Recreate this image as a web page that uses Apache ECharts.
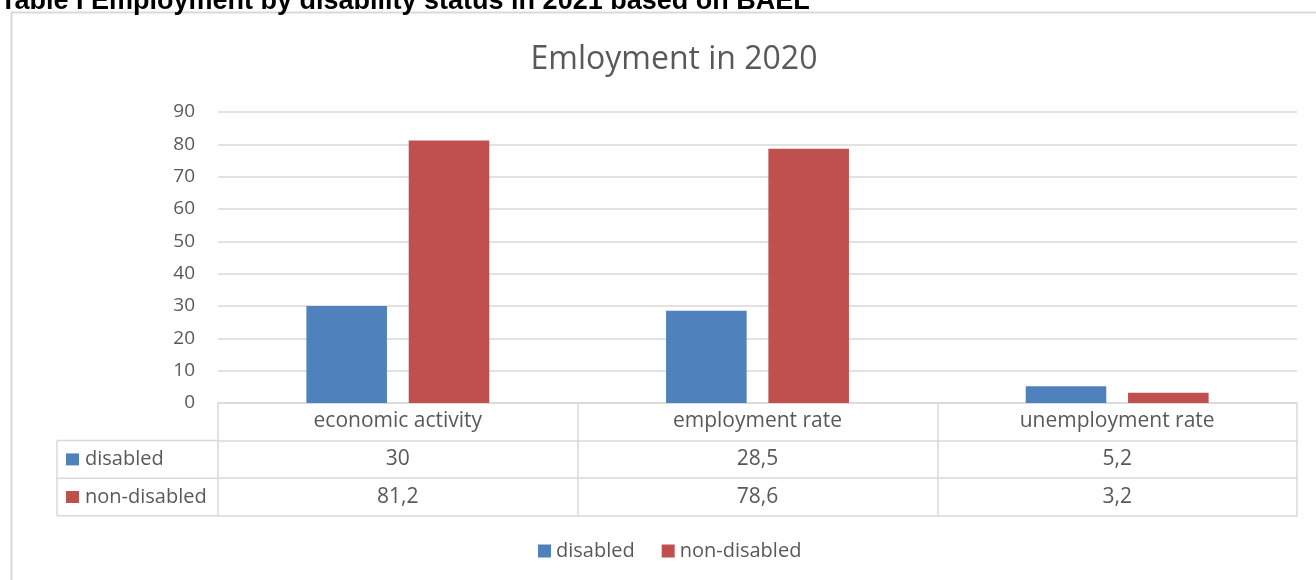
<!DOCTYPE html>
<html>
<head>
<meta charset="utf-8">
<script src="https://cdn.jsdelivr.net/npm/echarts@6/dist/echarts.min.js"></script>
<style>
  html, body { margin: 0; padding: 0; background: #ffffff; }
  #chart { width: 1316px; height: 580px; }
</style>
</head>
<body>
<div id="chart"></div>
<script>
// Data
const categories = ['economic activity', 'employment rate', 'unemployment rate'];
const seriesNames = ['disabled', 'non-disabled'];
const disabledValues = [30, 28.5, 5.2];
const nonDisabledValues = [81.2, 78.6, 3.2];
const yTicks = [0, 10, 20, 30, 40, 50, 60, 70, 80, 90];

// Layout
const W = 1316, H = 580;
const GRID_LEFT = 218, GRID_RIGHT_X = 1297, GRID_TOP = 112, AXIS_Y = 403;
const ROW_H = 37.6;
const TABLE_LEFT = 57;
const COLORS = ['#4f81bd', '#c0504d'];
const LINE = '#d9d9d9';
const TEXT = '#595959';
const FONT = '"Open Sans", "Noto Sans", sans-serif';
const FS = 20;
const TABLE_FS = 21;

const fmt = v => String(v).replace('.', ',');

const chart = echarts.init(document.getElementById('chart'), null, { renderer: 'canvas' });

// Table rows under the plot: one category axis per row
function tableAxis(offset, values, showTicks) {
  return {
    type: 'category',
    data: categories,
    position: 'bottom',
    offset: offset,
    boundaryGap: true,
    axisLine: { show: true, lineStyle: { color: LINE, width: 1.5 } },
    axisTick: { show: showTicks, interval: 0, length: ROW_H, lineStyle: { color: LINE, width: 1.5 } },
    axisLabel: {
      show: !!values,
      interval: 0,
      margin: 8,
      color: TEXT,
      fontFamily: FONT,
      fontSize: TABLE_FS,
      formatter: (val, idx) => values ? values[idx] : ''
    },
    splitLine: { show: false }
  };
}

const graphics = [
  // chart frame
  { type: 'rect', silent: true, shape: { x: 11.5, y: 12.5, width: W, height: H }, style: { fill: null, stroke: LINE, lineWidth: 2 } },
  // heading above the frame
  { type: 'text', silent: true, left: 0, top: -12,
    style: { text: 'Table I Employment by disability status in 2021 based on BAEL', font: 'bold 27px "Liberation Sans", Arial, sans-serif', fill: '#000000' } },
  // left column of the data table
  { type: 'line', silent: true, shape: { x1: TABLE_LEFT, y1: AXIS_Y + ROW_H, x2: TABLE_LEFT, y2: AXIS_Y + 3 * ROW_H }, style: { stroke: LINE, lineWidth: 1.5 } }
];
for (let r = 1; r <= 3; r++) {
  graphics.push({ type: 'line', silent: true,
    shape: { x1: TABLE_LEFT, y1: AXIS_Y + r * ROW_H, x2: GRID_LEFT, y2: AXIS_Y + r * ROW_H },
    style: { stroke: LINE, lineWidth: 1.5 } });
}
seriesNames.forEach((name, i) => {
  const cy = AXIS_Y + ROW_H * (i + 1.5);
  graphics.push({ type: 'rect', silent: true, shape: { x: 66, y: cy - 6, width: 13, height: 12 }, style: { fill: COLORS[i] } });
  graphics.push({ type: 'text', silent: true, x: 85, y: cy,
    style: { text: name, font: FS + 'px ' + FONT, fill: TEXT, verticalAlign: 'middle', textAlign: 'left' } });
});

const option = {
  animation: false,
  backgroundColor: '#ffffff',
  title: {
    text: 'Emloyment in 2020',
    left: 669,
    top: 39,
    textAlign: 'center',
    textStyle: { color: TEXT, fontFamily: FONT, fontSize: 32, fontWeight: 'normal' }
  },
  legend: {
    data: seriesNames,
    left: 538,
    top: 541,
    padding: 0,
    itemWidth: 13,
    itemHeight: 13,
    itemGap: 27,
    icon: 'rect',
    textStyle: { color: TEXT, fontFamily: FONT, fontSize: FS }
  },
  grid: {
    left: GRID_LEFT,
    right: W - GRID_RIGHT_X,
    top: GRID_TOP,
    bottom: H - AXIS_Y,
    containLabel: false
  },
  xAxis: [
    tableAxis(0, categories, true),
    tableAxis(ROW_H, disabledValues.map(fmt), true),
    tableAxis(2 * ROW_H, nonDisabledValues.map(fmt), true),
    tableAxis(3 * ROW_H, null, false)
  ],
  yAxis: {
    type: 'value',
    min: yTicks[0],
    max: yTicks[yTicks.length - 1],
    interval: yTicks[1] - yTicks[0],
    axisLine: { show: false },
    axisTick: { show: false },
    axisLabel: { color: TEXT, fontFamily: FONT, fontSize: 19, margin: 23 },
    splitLine: { lineStyle: { color: LINE, width: 1.5 } }
  },
  series: [
    {
      name: seriesNames[0],
      type: 'bar',
      xAxisIndex: 0,
      data: disabledValues,
      barWidth: '22.4%',
      barGap: '27%',
      itemStyle: { color: COLORS[0] }
    },
    {
      name: seriesNames[1],
      type: 'bar',
      xAxisIndex: 0,
      data: nonDisabledValues,
      barWidth: '22.4%',
      barGap: '27%',
      itemStyle: { color: COLORS[1] }
    }
  ],
  graphic: graphics
};

chart.setOption(option);
</script>
</body>
</html>
